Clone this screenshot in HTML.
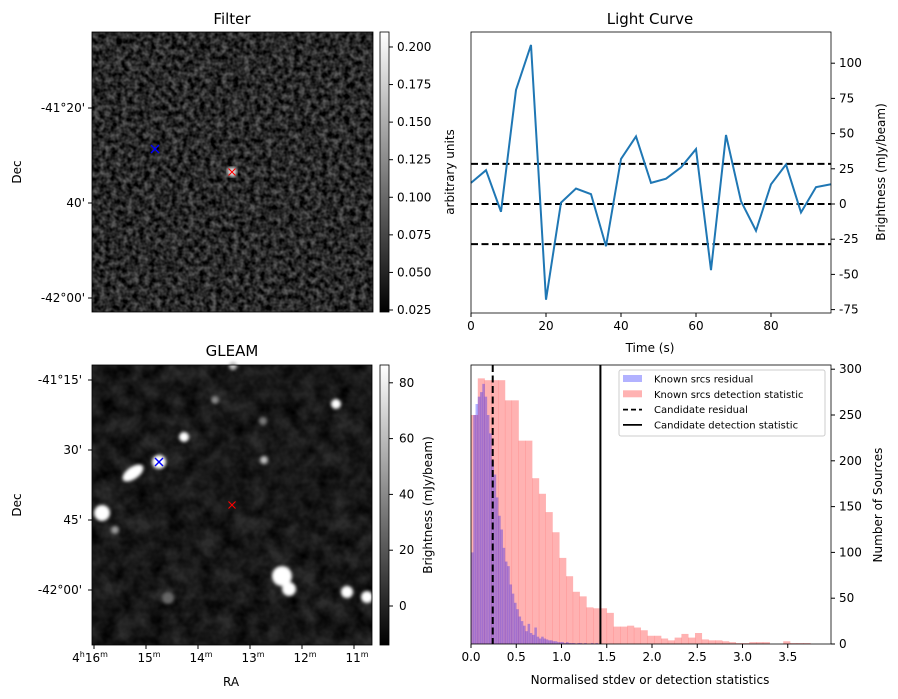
<!DOCTYPE html>
<html><head><meta charset="utf-8"><style>
body{margin:0;background:#fff}
svg{display:block;font-family:"DejaVu Sans","Liberation Sans",sans-serif}
</style></head><body>
<svg id="fig" width="898" height="699" viewBox="0 0 898 699" xmlns="http://www.w3.org/2000/svg">
<defs>
<filter id="fnoise" x="0" y="0" width="100%" height="100%">
<feTurbulence type="fractalNoise" baseFrequency="0.18" numOctaves="2" seed="3"/>
<feColorMatrix type="matrix" values="0 0 0 0 0  0 0 0 0 0  0 0 0 0 0  1.8 0 0 0 -0.35"/>
<feComposite in2="SourceGraphic" operator="in"/>
</filter>
<filter id="gnoise" x="0" y="0" width="100%" height="100%">
<feTurbulence type="fractalNoise" baseFrequency="0.06" numOctaves="3" seed="7"/>
<feColorMatrix type="matrix" values="0 0 0 0 0  0 0 0 0 0  0 0 0 0 0  1.5 0 0 0 -0.3"/>
<feComposite in2="SourceGraphic" operator="in"/>
</filter>
<filter id="blur2"><feGaussianBlur stdDeviation="1.5"/></filter>
<linearGradient id="cbar" x1="0" y1="1" x2="0" y2="0"><stop offset="0" stop-color="#000"/><stop offset="1" stop-color="#fff"/></linearGradient>
</defs>

<g>
<text x="232" y="24" font-size="15" text-anchor="middle">Filter</text>
<rect x="92" y="32" width="281" height="280" fill="#5a5a5a"/>
<rect x="92" y="32" width="281" height="280" fill="#d0d0d0" filter="url(#fnoise)"/>
<circle cx="232" cy="172" r="5" fill="#ddd" filter="url(#blur2)"/>
<rect x="92" y="32" width="281" height="280" fill="none" stroke="#000" stroke-width="0.8"/>
<g stroke="#00f" stroke-width="1.4"><line x1="151" y1="145" x2="159" y2="153"/><line x1="159" y1="145" x2="151" y2="153"/></g>
<g stroke="#f00" stroke-width="1.1"><line x1="228.5" y1="168.5" x2="235.5" y2="175.5"/><line x1="235.5" y1="168.5" x2="228.5" y2="175.5"/></g>
<g font-size="12" text-anchor="end">
<text x="85" y="112">-41°20'</text><line x1="88" y1="108" x2="92" y2="108" stroke="#000"/>
<text x="85" y="207">40'</text><line x1="88" y1="203" x2="92" y2="203" stroke="#000"/>
<text x="85" y="302">-42°00'</text><line x1="88" y1="298" x2="92" y2="298" stroke="#000"/>
</g>
<text transform="translate(21,172) rotate(-90)" font-size="12" text-anchor="middle">Dec</text>
<rect x="380" y="32" width="9" height="280" fill="url(#cbar)" stroke="#000" stroke-width="0.8"/>
<g id="fcb" font-size="12"></g>
</g>

<g>
<text x="232" y="356" font-size="15" text-anchor="middle">GLEAM</text>
<rect x="92" y="365" width="280" height="280" fill="#2c2c2c"/>
<rect x="92" y="365" width="280" height="280" fill="#707070" filter="url(#gnoise)"/>
<g fill="#fff" filter="url(#blur2)">
<circle cx="102" cy="513" r="8"/><ellipse cx="133" cy="473" rx="12" ry="6" transform="rotate(-35 133 473)"/>
<circle cx="159" cy="462" r="7"/><circle cx="184" cy="437" r="5"/><circle cx="264" cy="460" r="4" fill="#bbb"/>
<circle cx="282" cy="576" r="10"/><circle cx="289" cy="589" r="7"/><circle cx="347" cy="592" r="6"/>
<circle cx="367" cy="597" r="6"/><circle cx="336" cy="404" r="5"/><circle cx="115" cy="530" r="4" fill="#999"/>
<circle cx="233" cy="366" r="4" fill="#bbb"/><circle cx="215" cy="400" r="4" fill="#888"/>
<circle cx="263" cy="421" r="4" fill="#777"/><circle cx="168" cy="598" r="6" fill="#666"/>
</g>
<rect x="92" y="365" width="280" height="280" fill="none" stroke="#000" stroke-width="0.8"/>
<g stroke="#00f" stroke-width="1.4"><line x1="155" y1="458" x2="163" y2="466"/><line x1="163" y1="458" x2="155" y2="466"/></g>
<g stroke="#f00" stroke-width="1.1"><line x1="228.5" y1="501.5" x2="235.5" y2="508.5"/><line x1="235.5" y1="501.5" x2="228.5" y2="508.5"/></g>
<g font-size="12" text-anchor="end">
<text x="82" y="384">-41°15'</text><line x1="88" y1="380" x2="92" y2="380" stroke="#000"/>
<text x="82" y="454">30'</text><line x1="88" y1="450" x2="92" y2="450" stroke="#000"/>
<text x="82" y="524">45'</text><line x1="88" y1="520" x2="92" y2="520" stroke="#000"/>
<text x="82" y="594">-42°00'</text><line x1="88" y1="590" x2="92" y2="590" stroke="#000"/>
</g>
<text transform="translate(21,505) rotate(-90)" font-size="12" text-anchor="middle">Dec</text>
<g font-size="12" text-anchor="middle">
<line x1="94" y1="645" x2="94" y2="649" stroke="#000"/><text x="90" y="662">4<tspan font-size="8" dy="-5">h</tspan><tspan dy="5">16</tspan><tspan font-size="8" dy="-5">m</tspan></text>
<line x1="146" y1="645" x2="146" y2="649" stroke="#000"/><text x="149" y="662">15<tspan font-size="8" dy="-5">m</tspan></text>
<line x1="198" y1="645" x2="198" y2="649" stroke="#000"/><text x="201" y="662">14<tspan font-size="8" dy="-5">m</tspan></text>
<line x1="250" y1="645" x2="250" y2="649" stroke="#000"/><text x="253" y="662">13<tspan font-size="8" dy="-5">m</tspan></text>
<line x1="302" y1="645" x2="302" y2="649" stroke="#000"/><text x="305" y="662">12<tspan font-size="8" dy="-5">m</tspan></text>
<line x1="354" y1="645" x2="354" y2="649" stroke="#000"/><text x="357" y="662">11<tspan font-size="8" dy="-5">m</tspan></text>
</g>
<text x="231" y="686" font-size="12" text-anchor="middle">RA</text>
<rect x="380" y="365" width="9" height="280" fill="url(#cbar)" stroke="#000" stroke-width="0.8"/>
<g id="gcb" font-size="12"></g>
<text transform="translate(432,505) rotate(-90)" font-size="12" text-anchor="middle">Brightness (mJy/beam)</text>
</g>

<g id="lc">
<text x="650" y="24" font-size="15" text-anchor="middle">Light Curve</text>
<text transform="translate(454,172) rotate(-90)" font-size="12" text-anchor="middle">arbitrary units</text>
<text transform="translate(885,172) rotate(-90)" font-size="12" text-anchor="middle">Brightness (mJy/beam)</text>
<text x="650" y="352" font-size="12" text-anchor="middle">Time (s)</text>
</g>

<g id="hist">
<text x="650" y="684" font-size="12" text-anchor="middle">Normalised stdev or detection statistics</text>
<text transform="translate(882,505) rotate(-90)" font-size="12" text-anchor="middle">Number of Sources</text>
</g>
</svg>
<script>
const NS='http://www.w3.org/2000/svg';
const filterCbTicks=[0.025,0.05,0.075,0.1,0.125,0.15,0.175,0.2];
const gleamCbTicks=[0,20,40,60,80];
const lcTime=[0,4,8,12,16,20,24,28,32,36,40,44,48,52,56,60,64,68,72,76,80,84,88,92,96];
const lcFlux=[15,24,-5.5,81,113,-68,1,11,7,-30,32,48,15,18,26,39,-47,49,2,-19,14,28,-6,12,14];
const lcLevels=[28.5,0,-28.5];
const lcXTicks=[0,20,40,60,80];
const lcYTicks=[-75,-50,-25,0,25,50,75,100];
const redWidth=0.075;
const redCounts=[250,290,288,288,288,266,266,222,222,181,164,144,122,94,74,57,52,40,39,39,34,19,19,20,18,15,9,9,6,4,7,11,7,12,5,4,4,3,2,1,1,2,2,2,0,0,3,1,1,1];
const blueWidth=0.025;
const blueCounts=[100,250,262,270,275,284,270,250,230,200,185,160,140,125,105,90,85,65,55,45,38,30,25,20,14,22,12,10,18,8,6,8,6,5,4,4,3,3,2,2,2,1,2,1,1,1,0,1,1,0,1,0,0,1,0,1];
const candResidual=0.24;
const candDetection=1.43;
const hXTicks=[0,0.5,1,1.5,2,2.5,3,3.5];
const hXLabels=['0.0','0.5','1.0','1.5','2.0','2.5','3.0','3.5'];
const hYTicks=[0,50,100,150,200,250,300];

function mk(tag,attrs,parent){const e=document.createElementNS(NS,tag);for(const k in attrs)e.setAttribute(k,attrs[k]);parent.appendChild(e);return e;}

const fcb=document.getElementById('fcb');
const fy=v=>310-(v-0.025)*1503;
filterCbTicks.forEach(v=>{mk('line',{x1:389,x2:393,y1:fy(v),y2:fy(v),stroke:'#000'},fcb);const t=mk('text',{x:397,y:fy(v)+4},fcb);t.textContent=v.toFixed(3);});
const gcb=document.getElementById('gcb');
const gy=v=>606-v*2.79;
gleamCbTicks.forEach(v=>{mk('line',{x1:389,x2:393,y1:gy(v),y2:gy(v),stroke:'#000'},gcb);const t=mk('text',{x:399,y:gy(v)+4},gcb);t.textContent=v;});

const lc=document.getElementById('lc');
const L={x0:471,x1:831,y0:32,y1:313};
const lx=t=>L.x0+t*3.75;
const ly=v=>204-v*1.408;
lcLevels.forEach(v=>{const l=mk('line',{x1:L.x0,x2:L.x1,y1:ly(v),y2:ly(v),stroke:'#000','stroke-width':2,'stroke-dasharray':'7,3.5'},lc);

});
const pl=mk('polyline',{points:lcTime.map((t,i)=>lx(t)+','+ly(lcFlux[i])).join(' '),fill:'none',stroke:'#1f77b4','stroke-width':2},lc);


mk('rect',{x:L.x0,y:L.y0,width:L.x1-L.x0,height:L.y1-L.y0,fill:'none',stroke:'#000','stroke-width':0.8},lc);
lcXTicks.forEach(v=>{mk('line',{x1:lx(v),x2:lx(v),y1:L.y1,y2:L.y1+4,stroke:'#000'},lc);const t=mk('text',{x:lx(v),y:L.y1+17,'font-size':12,'text-anchor':'middle'},lc);t.textContent=v;});
lcYTicks.forEach(v=>{mk('line',{x1:L.x1,x2:L.x1+4,y1:ly(v),y2:ly(v),stroke:'#000'},lc);const t=mk('text',{x:L.x1+8,y:ly(v)+4,'font-size':12},lc);t.textContent=v;});

const H=document.getElementById('hist');
const H0={x0:471,x1:831,y0:365,y1:644};
const hx=u=>H0.x0+u*90.5;
const hy=c=>H0.y1-c*0.916;
redCounts.forEach((c,i)=>{if(!c)return;const r=mk('rect',{x:hx(i*redWidth),y:hy(c),width:hx((i+1)*redWidth)-hx(i*redWidth)+0.3,height:H0.y1-hy(c),fill:'#ff0000','fill-opacity':0.3},H);

});
blueCounts.forEach((c,i)=>{if(!c)return;const r=mk('rect',{x:hx(i*blueWidth),y:hy(c),width:hx((i+1)*blueWidth)-hx(i*blueWidth)+0.3,height:H0.y1-hy(c),fill:'#0000ff','fill-opacity':0.3},H);

});
const dl=mk('line',{x1:hx(candResidual),x2:hx(candResidual),y1:H0.y0,y2:H0.y1,stroke:'#000','stroke-width':2,'stroke-dasharray':'7,3.5'},H);


const sl=mk('line',{x1:hx(candDetection),x2:hx(candDetection),y1:H0.y0,y2:H0.y1,stroke:'#000','stroke-width':2},H);


mk('rect',{x:H0.x0,y:H0.y0,width:H0.x1-H0.x0,height:H0.y1-H0.y0,fill:'none',stroke:'#000','stroke-width':0.8},H);
hXTicks.forEach((v,i)=>{mk('line',{x1:hx(v),x2:hx(v),y1:H0.y1,y2:H0.y1+4,stroke:'#000'},H);const t=mk('text',{x:hx(v),y:H0.y1+17,'font-size':12,'text-anchor':'middle'},H);t.textContent=hXLabels[i];});
hYTicks.forEach(v=>{mk('line',{x1:H0.x1,x2:H0.x1+4,y1:hy(v),y2:hy(v),stroke:'#000'},H);const t=mk('text',{x:H0.x1+8,y:hy(v)+4,'font-size':12},H);t.textContent=v;});
const lg=mk('g',{},H);


mk('rect',{x:619,y:370,width:206,height:66,rx:2,fill:'#fff','fill-opacity':0.8,stroke:'#ccc'},lg);
const items=[['Known srcs residual','blue'],['Known srcs detection statistic','red'],['Candidate residual','dash'],['Candidate detection statistic','solid']];
items.forEach((it,i)=>{const y=379+i*15.3;
if(it[1]==='blue')mk('rect',{x:623,y:y-4,width:19,height:7,fill:'#0000ff','fill-opacity':0.3},lg);
else if(it[1]==='red')mk('rect',{x:623,y:y-4,width:19,height:7,fill:'#ff0000','fill-opacity':0.3},lg);
else mk('line',{x1:623,x2:642,y1:y,y2:y,stroke:'#000','stroke-width':1.8,'stroke-dasharray':it[1]==='dash'?'5,3':'none'},lg);
const t=mk('text',{x:654,y:y+3.5,'font-size':10},lg);t.textContent=it[0];

});
</script>
</body></html>
